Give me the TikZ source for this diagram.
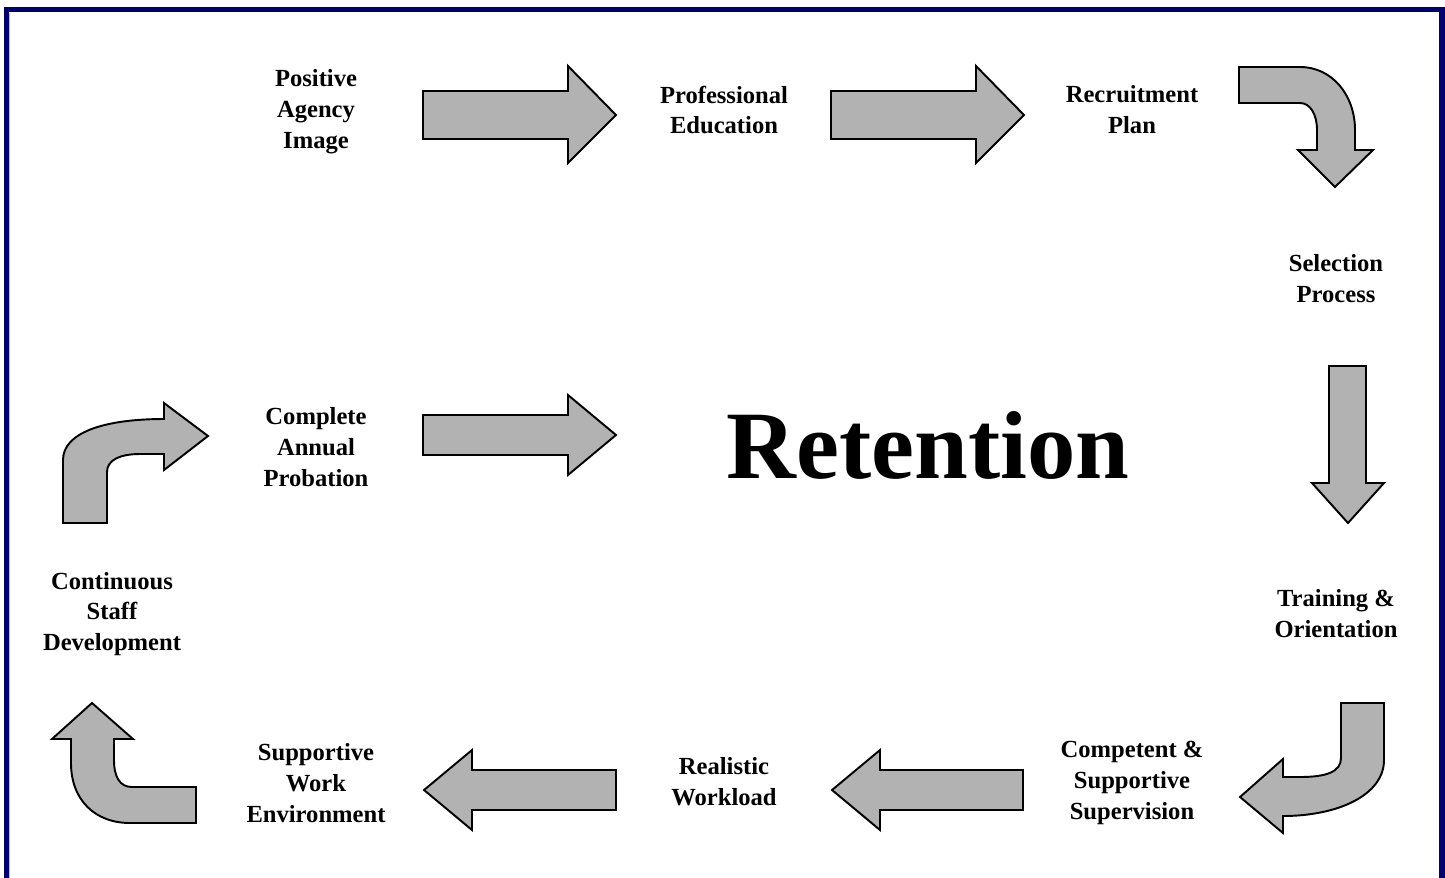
\documentclass[tikz,border=0pt]{standalone}
\usepackage{fontspec}
\setmainfont{Liberation Serif}
\usepackage{tikz}

\definecolor{framenavy}{RGB}{0,0,112}
\definecolor{framelight}{RGB}{180,188,240}

\begin{document}
\begin{tikzpicture}[x=0.02cm, y=-0.02cm,
  blockarrow/.style={fill=gray!60, draw=black, line width=1.1pt, line join=miter},
  lbl/.style={align=center, inner sep=0pt, font=\fontsize{14}{17.6}\selectfont\bfseries}]
\useasboundingbox (0,0) rectangle (1445,877);

% frame
\draw[framenavy, line width=3pt] (6.5,900) -- (6.5,9.5) -- (1442,9.5) -- (1442,900);
\draw[framelight, line width=0.4pt] (9.8,900) -- (9.8,12.5);

% labels
\node[lbl] (image) at (316,112) {Positive\\Agency\\Image};
\node[lbl] (edu) at (724,110) {Professional\\Education};
\node[lbl] (plan) at (1132,110) {Recruitment\\Plan};
\node[lbl] (select) at (1336,279) {Selection\\Process};
\node[lbl] (train) at (1336,614) {Training \&\\Orientation};
\node[lbl] (superv) at (1132,783) {Competent \&\\Supportive\\Supervision};
\node[lbl] (load) at (724,782) {Realistic\\Workload};
\node[lbl] (env) at (316,783) {Supportive\\Work\\Environment};
\node[lbl] (dev) at (112,614) {Continuous\\Staff\\Development};
\node[lbl] (prob) at (316,447) {Complete\\Annual\\Probation};
\node[inner sep=0pt, font=\fontsize{55}{60}\selectfont\bfseries] (ret) at (928,445) {Retention};

% straight arrows
\draw[blockarrow] (423,91) -- (568,91) -- (568,66) -- (616,115) -- (568,163) -- (568,139) -- (423,139) -- cycle;
\draw[blockarrow] (831,91) -- (976,91) -- (976,66) -- (1024,115) -- (976,163) -- (976,139) -- (831,139) -- cycle;
\draw[blockarrow] (423,415) -- (568,415) -- (568,395) -- (616,435) -- (568,475) -- (568,455) -- (423,455) -- cycle;
\draw[blockarrow] (1329,366) -- (1366,366) -- (1366,483) -- (1384,483) -- (1348,523) -- (1312,483) -- (1329,483) -- cycle;
\draw[blockarrow] (1023,770) -- (880,770) -- (880,750) -- (832,790) -- (880,830) -- (880,810) -- (1023,810) -- cycle;
\draw[blockarrow] (616,770) -- (472,770) -- (472,750) -- (424,790) -- (472,830) -- (472,810) -- (616,810) -- cycle;

% bent arrows
\draw[blockarrow] (1239,67) -- (1300,67) .. controls (1332,67) and (1355,95) .. (1355,130)
  -- (1355,150) -- (1373,150) -- (1335,187) -- (1298,150) -- (1317,150) -- (1317,130)
  .. controls (1317,114) and (1310,103) .. (1300,103) -- (1239,103) -- cycle;
\draw[blockarrow] (1341,703) -- (1384,703) -- (1384,760) .. controls (1384,795) and (1338,816) .. (1283,816)
  -- (1283,833) -- (1240,797) -- (1283,759) -- (1283,777) -- (1300,777)
  .. controls (1326,777) and (1341,772) .. (1341,758) -- cycle;
\draw[blockarrow] (63,523) -- (63,460) .. controls (63,433) and (103,419) .. (164,419)
  -- (164,403) -- (208,436) -- (164,470) -- (164,454) -- (140,454)
  .. controls (120,454) and (107,460) .. (107,472) -- (107,523) -- cycle;
\draw[blockarrow] (196,787) -- (196,823) -- (130,823) .. controls (95,823) and (71,800) .. (71,763)
  -- (71,739) -- (52,739) -- (92,703) -- (133,739) -- (114,739) -- (114,760)
  .. controls (114,777) and (120,787) .. (132,787) -- cycle;
\end{tikzpicture}
\end{document}
